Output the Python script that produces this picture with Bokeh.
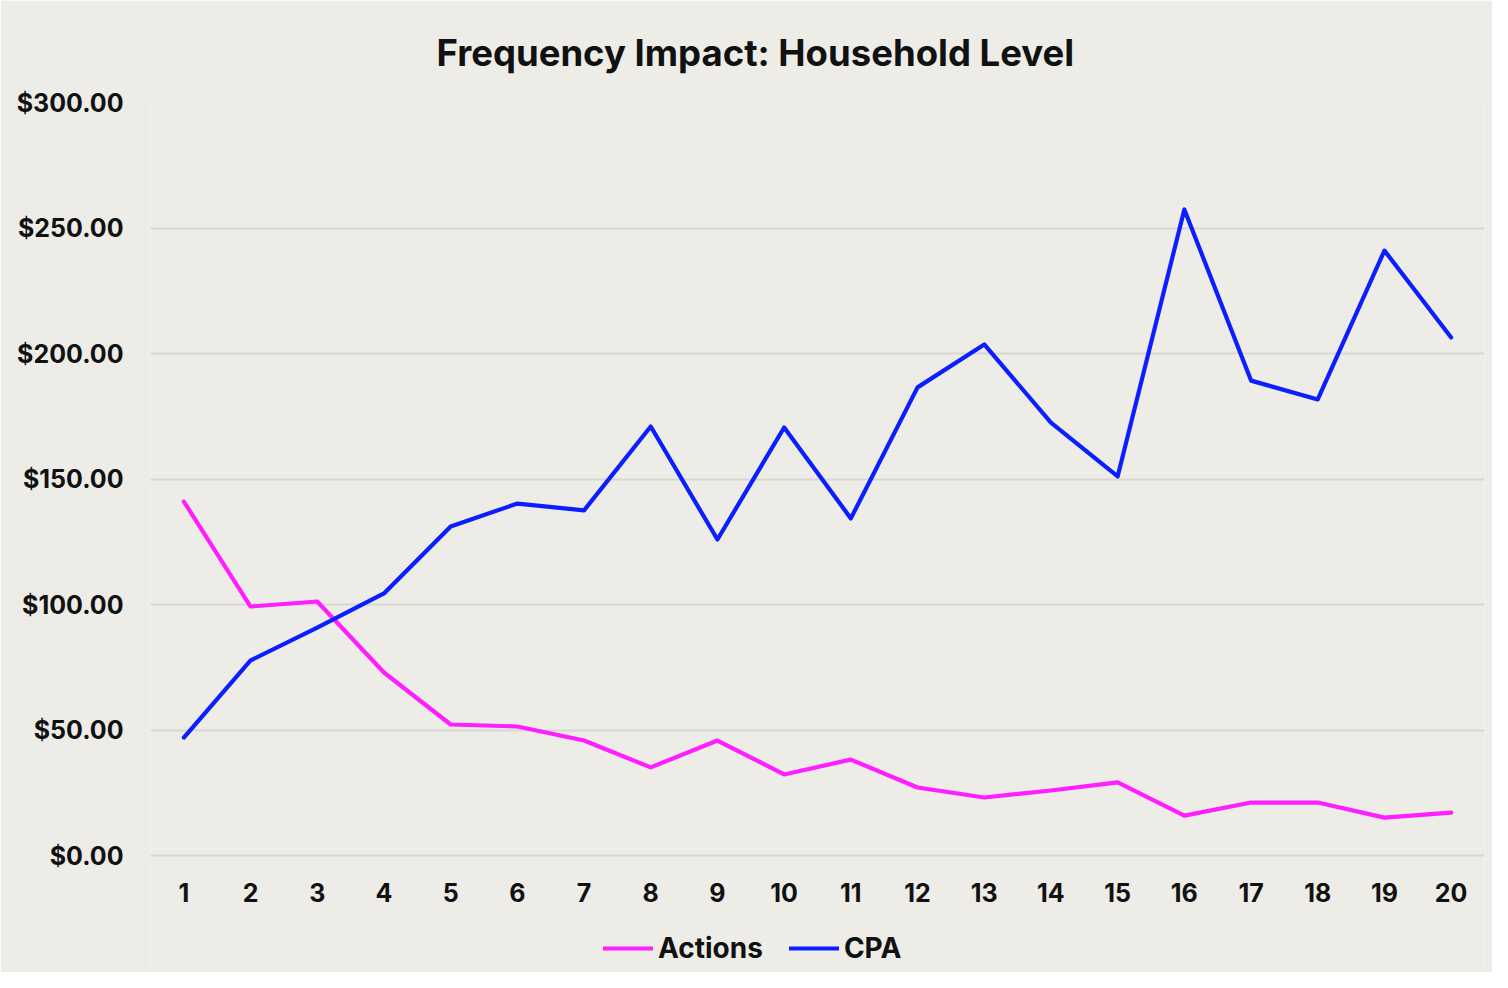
from bokeh.plotting import figure
from bokeh.models import ColumnDataSource, Range1d, FixedTicker, Legend, LegendItem, NumeralTickFormatter
from bokeh.embed import file_html
from bokeh.resources import INLINE

freq = list(range(1, 21))
actions = [141.0, 99.2, 101.2, 72.9, 52.2, 51.4, 45.8, 35.1, 45.8, 32.3,
           38.2, 27.1, 23.1, 25.9, 29.1, 15.9, 21.1, 21.1, 15.1, 17.1]
cpa = [47.0, 77.7, 90.8, 104.4, 131.1, 140.2, 137.5, 170.9, 125.9, 170.5,
       134.3, 186.5, 203.6, 172.5, 151.0, 257.4, 189.2, 181.7, 241.0, 206.4]
y_ticks = [0, 50, 100, 150, 200, 250, 300]
title_text = "Frequency Impact: Household Level"

BG = "#EDECE7"
FONT = "Inter"

src = ColumnDataSource(dict(x=freq, actions=actions, cpa=cpa))

# frame spans from y=102 px (value 300) to the figure bottom; 2.51 px per dollar
PX = 753 / 300.0
y_bottom = -(972 - 855) / PX

p = figure(width=1492, height=972, output_backend="svg", toolbar_location=None,
           x_range=Range1d(0.5, 20.5), y_range=Range1d(y_bottom, 300),
           title=title_text,
           min_border_left=150, min_border_right=8, min_border_top=102, min_border_bottom=0)
p.background_fill_color = BG
p.border_fill_color = BG
p.outline_line_color = None

p.title.align = "left"
p.title.offset = 286
p.title.text_font = FONT
p.title.text_font_style = "bold"
p.title.text_font_size = "36.5px"
p.title.text_color = "#111111"
p.title.standoff = 56

r1 = p.line("x", "actions", source=src, line_color="#FF1EFF", line_width=4.2, line_join="round", line_cap="round")
r2 = p.line("x", "cpa", source=src, line_color="#0A1EFF", line_width=4.2, line_join="round", line_cap="round")

p.xaxis.ticker = FixedTicker(ticks=freq)
p.xaxis.fixed_location = 0
p.yaxis.ticker = FixedTicker(ticks=y_ticks)
p.yaxis.formatter = NumeralTickFormatter(format="$0,0.00")
for ax in (p.xaxis[0], p.yaxis[0]):
    ax.axis_line_color = None
    ax.major_tick_line_color = None
    ax.minor_tick_line_color = None
    ax.major_label_text_font = FONT
    ax.major_label_text_font_style = "bold"
    ax.major_label_text_font_size = "25px"
    ax.major_label_text_color = "#111111"
p.yaxis.major_label_standoff = 21
p.xaxis.major_label_standoff = 21
p.xgrid.grid_line_color = None
p.ygrid.grid_line_color = "#D8D7D3"
p.ygrid.grid_line_width = 2

legend = Legend(items=[LegendItem(label="Actions", renderers=[r1]),
                       LegendItem(label="CPA", renderers=[r2])],
                orientation="horizontal", location=(453, 7),
                background_fill_alpha=0, border_line_color=None,
                label_text_font=FONT, label_text_font_style="bold",
                label_text_font_size="28px", label_text_color="#111111",
                glyph_width=50, label_standoff=5, spacing=26, padding=0, margin=0)
p.add_layout(legend, "center")

open("out.html", "w").write(file_html(p, INLINE))
